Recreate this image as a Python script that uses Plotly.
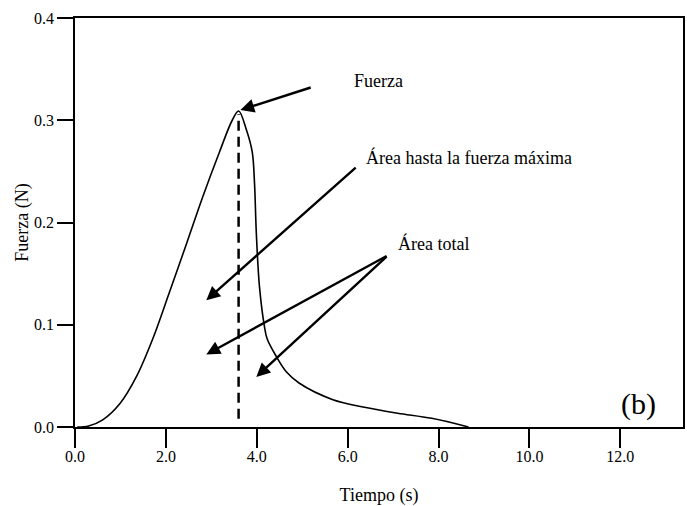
import plotly.graph_objects as go

# Data
tiempo = [0.05, 0.3, 0.61, 0.99, 1.36, 1.71, 2.08, 2.46, 2.81, 3.18, 3.46, 3.6,
          3.77, 3.9, 3.95, 3.99, 4.06, 4.17, 4.23, 4.43, 4.65, 4.93, 5.66, 6.4,
          7.1, 7.85, 8.66]
fuerza = [0.0, 0.001, 0.007, 0.023, 0.050, 0.086, 0.132, 0.180, 0.225, 0.269,
          0.300, 0.309, 0.291, 0.269, 0.239, 0.19, 0.137, 0.098, 0.086, 0.069,
          0.054, 0.043, 0.027, 0.019, 0.0135, 0.0085, 0.0]

t_max = 3.6
f_max = 0.309

x_ticks = [0, 2, 4, 6, 8, 10, 12]
y_ticks = [0.0, 0.1, 0.2, 0.3, 0.4]

FONT = "Liberation Serif"

fig = go.Figure()
fig.add_trace(go.Scatter(x=tiempo, y=fuerza, mode="lines",
                         line=dict(color="black", width=1.6, shape="spline", smoothing=1.0),
                         showlegend=False, hoverinfo="skip"))

# dashed vertical line at max force
fig.add_trace(go.Scatter(x=[t_max, t_max], y=[0.008, 0.306], mode="lines",
                         line=dict(color="black", width=2.5, dash="10px,6px"),
                         showlegend=False, hoverinfo="skip"))

# arrows: (head x, head y, tail x, tail y)
arrows = [
    (3.64, 0.310, 5.22, 0.3325),
    (2.89, 0.124, 6.21, 0.255),
    (2.89, 0.071, 6.89, 0.168),
    (3.99, 0.049, 6.89, 0.168),
]
ann = []
for hx, hy, tx, ty in arrows:
    ann.append(dict(x=hx, y=hy, ax=tx, ay=ty, xref="x", yref="y", axref="x", ayref="y",
                    text="", showarrow=True, arrowhead=2, arrowsize=1.15, arrowwidth=2.4,
                    arrowcolor="black", standoff=0, startstandoff=0))

labels = [
    ("Fuerza", 6.10, 0.338, 18),
    ("Área hasta la fuerza máxima", 6.36, 0.264, 18),
    ("Área total", 7.06, 0.179, 18),
]
for txt, x, y, s in labels:
    ann.append(dict(x=x, y=y, xref="x", yref="y", text=txt, showarrow=False,
                    xanchor="left", yanchor="middle",
                    font=dict(family=FONT, size=s, color="black")))
ann.append(dict(x=12.39, y=0.0225, xref="x", yref="y", text="(b)", showarrow=False,
                xanchor="center", yanchor="middle",
                font=dict(family=FONT, size=30, color="black")))

fig.update_layout(
    width=687, height=506,
    margin=dict(l=75, r=2, t=18, b=78),
    paper_bgcolor="white", plot_bgcolor="white",
    font=dict(family=FONT, size=16, color="black"),
    annotations=ann,
    xaxis=dict(range=[0, 13.38], tickvals=x_ticks, tickformat=".1f",
               showgrid=False, zeroline=False, showline=True, mirror=True,
               linecolor="black", linewidth=1.6, ticks="outside", ticklen=19,
               tickwidth=1.6, tickcolor="black", ticklabelstandoff=-5,
               title=dict(text="Tiempo (s)", font=dict(family=FONT, size=18), standoff=26)),
    yaxis=dict(range=[0, 0.4], tickvals=y_ticks, tickformat=".1f",
               showgrid=False, zeroline=False, showline=True, mirror=True,
               linecolor="black", linewidth=1.6, ticks="outside", ticklen=16,
               tickwidth=1.6, tickcolor="black",
               title=dict(text="Fuerza (N)", font=dict(family=FONT, size=18), standoff=1)),
)

fig.write_html("out.html")
